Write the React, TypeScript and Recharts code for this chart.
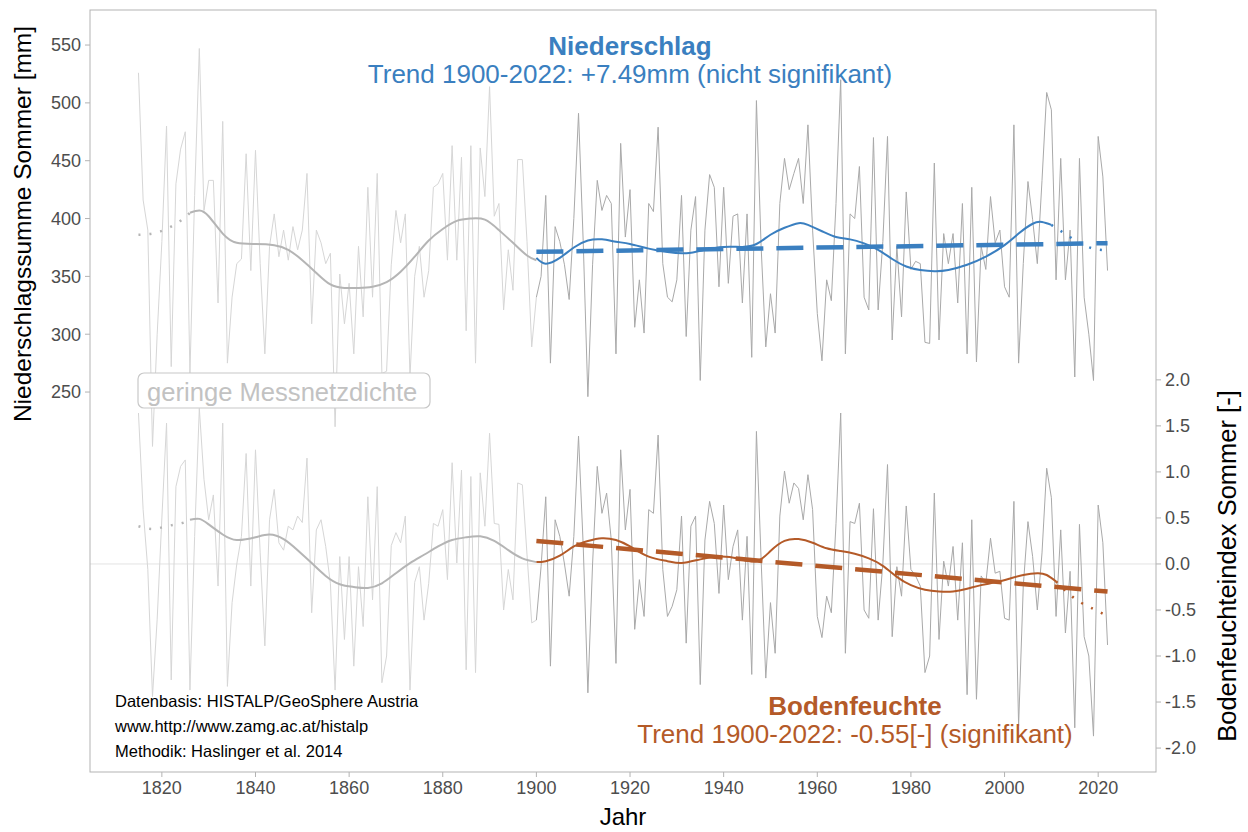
import React from "react";
import {
  ComposedChart,
  Line,
  XAxis,
  YAxis,
  ReferenceLine,
} from "recharts";

// summer precipitation [mm], 1815..2022
const PRECIP = [
  526, 416, 390, 203, 300,
  380, 480, 272, 430, 460, 475, 266, 420, 547, 407,
  433, 433, 327, 484, 275, 332, 361, 365, 456, 355,
  459, 361, 283, 376, 404, 367, 390, 364, 393, 373,
  390, 439, 309, 390, 379, 361, 370, 220, 352, 309,
  344, 283, 376, 315, 427, 332, 439, 266, 268, 360,
  407, 379, 404, 263, 350, 376, 332, 355, 427, 430,
  439, 364, 463, 364, 453, 303, 463, 275, 461, 419,
  514, 402, 413, 321, 373, 338, 451, 451, 380, 289,
  332, 350, 420, 275, 393, 380, 360, 330, 400, 491,
  380, 246, 360, 433, 407, 420, 413, 283, 465, 384,
  425, 306, 347, 301, 413, 406, 479, 361, 332, 328,
  347, 420, 298, 390, 419, 260, 390, 438, 427, 341,
  427, 344, 402, 404, 327, 404, 280, 502, 376, 289,
  335, 301, 413, 452, 425, 439, 452, 413, 481, 390,
  318, 277, 347, 329, 413, 520, 283, 404, 400, 445,
  332, 321, 470, 321, 380, 471, 295, 376, 315, 423,
  356, 363, 361, 293, 292, 448, 295, 387, 361, 387,
  327, 413, 283, 427, 276, 376, 356, 419, 379, 390,
  341, 332, 481, 275, 361, 432, 399, 361, 433, 509,
  494, 347, 452, 347, 390, 263, 452, 332, 300, 260,
  471, 436, 355,
];

// summer soil moisture index [-], 1815..2022
const SOIL = [
  1.64, 0.59, -0.06, -1.44, -0.6,
  0.5, 1.53, -1.26, 0.84, 1.06, 1.13, -1.37, 0.3, 1.69, 0.92,
  0.48, 0.75, -0.24, 1.53, -1.33, -0.42, 0.0, 0.3, 1.2, -0.24,
  1.24, 0.12, -0.89, 0.48, 0.81, 0.23, 0.15, 0.41, 0.37, 0.52,
  0.45, 1.15, -0.53, 0.37, 0.48, 0.19, -0.21, -1.37, 0.08, -0.82,
  0.08, -1.11, -0.03, -0.68, 0.73, -0.39, 0.84, -1.29, -1.0, 0.2,
  0.34, 0.23, 0.52, -1.37, -0.2, -0.03, -0.61, -0.21, 0.44, 0.41,
  0.59, -0.17, 1.1, 0.01, 1.02, -1.15, 0.95, -1.18, 0.99, 0.41,
  1.42, 0.44, 0.43, -0.5, -0.06, -0.39, 0.88, 0.86, 0.1, -0.64,
  -0.61, -0.03, 0.73, -1.11, 0.48, 0.3, 0.0, -0.35, 0.3, 1.39,
  0.2, -1.4, 0.0, 1.06, 0.55, 0.77, 0.26, -1.08, 1.24, 0.37,
  0.81, -0.71, -0.17, -0.57, 0.59, 0.55, 1.4, -0.06, -0.57, -0.46,
  -0.28, 0.52, -0.86, 0.41, 0.52, -1.31, 0.26, 0.68, 0.44, -0.32,
  0.64, -0.17, 0.19, 0.37, -0.61, 0.3, -1.2, 1.44, 0.05, -1.24,
  -0.42, -0.97, 0.52, 1.01, 0.66, 0.88, 0.82, 0.48, 0.97, 0.59,
  -0.57, -0.8, -0.35, -0.53, 0.44, 1.64, -0.97, 0.46, 0.44, 0.66,
  -0.5, -0.59, 0.6, -0.61, 0.0, 1.08, -0.79, -0.03, -0.35, 0.63,
  -0.06, -0.13, -0.24, -1.18, -1.0, 0.77, -0.82, 0.03, -0.24, 0.19,
  -0.61, 0.23, -1.42, 0.48, -1.47, -0.13, -0.21, 0.28, -0.1, -0.08,
  -0.59, -0.61, 0.68, -1.76, -0.24, 0.46, 0.08, -0.5, 0.12, 1.04,
  0.72, -0.57, 0.37, -0.75, -0.08, -1.78, 0.43, -0.79, -1.0, -1.87,
  0.64, 0.23, -0.88,
];

const FIRST_YEAR = 1815;
const YEARS = PRECIP.map((_, i) => FIRST_YEAR + i);

// smoothed curves [year, value]
const P_SMOOTH_HEAD = [[1815, 386], [1818, 387], [1821, 391], [1824, 398], [1826, 405]];
const P_SMOOTH_EARLY = [
  [1826, 405], [1828, 407], [1830, 402], [1833, 387], [1836, 379], [1840, 378],
  [1844, 377], [1847, 373], [1850, 364], [1853, 353], [1856, 343], [1859, 340],
  [1862, 340], [1865, 341], [1868, 345], [1871, 354], [1874, 367], [1877, 381],
  [1880, 391], [1883, 398], [1886, 400], [1889, 399], [1892, 390], [1895, 379],
  [1898, 368], [1900, 364],
];
const P_SMOOTH_LATE = [
  [1900, 366], [1902, 361], [1905, 366], [1908, 375], [1911, 381], [1914, 382],
  [1917, 380], [1920, 378], [1924, 374], [1928, 371], [1932, 370], [1936, 373],
  [1940, 375.5], [1944, 375.5], [1947, 378], [1950, 386], [1953, 392], [1956, 396],
  [1958, 394.5], [1961, 389], [1964, 384], [1967, 382], [1970, 378.5], [1973, 373],
  [1976, 365], [1979, 358.5], [1982, 355.5], [1985, 354.5], [1988, 355.5],
  [1992, 360], [1996, 367], [2000, 377], [2003, 387], [2006, 395.5], [2008, 397],
  [2010, 394.5],
];
const P_SMOOTH_TAIL = [[2010, 394.5], [2013, 386.6], [2016, 379], [2019, 374], [2022, 372.5]];
const P_TREND = [[1900, 371.2], [2022, 378.7]];

const S_SMOOTH_HEAD = [[1815, 0.41], [1818, 0.38], [1821, 0.41], [1824, 0.44], [1826, 0.48]];
const S_SMOOTH_EARLY = [
  [1826, 0.48], [1828, 0.49], [1830, 0.43], [1833, 0.32], [1836, 0.26], [1840, 0.29],
  [1843, 0.32], [1846, 0.27], [1849, 0.15], [1852, 0.01], [1855, -0.13], [1858, -0.22],
  [1861, -0.25], [1864, -0.26], [1867, -0.21], [1870, -0.1], [1873, 0.01], [1876, 0.1],
  [1879, 0.19], [1882, 0.26], [1885, 0.29], [1888, 0.3], [1891, 0.25], [1894, 0.15],
  [1897, 0.06], [1900, 0.02],
];
const S_SMOOTH_LATE = [
  [1900, 0.02], [1902, 0.03], [1905, 0.09], [1908, 0.19], [1911, 0.25], [1914, 0.28],
  [1917, 0.26], [1920, 0.19], [1924, 0.08], [1928, 0.03], [1931, 0.01], [1935, 0.05],
  [1939, 0.08], [1943, 0.06], [1947, 0.03], [1950, 0.14], [1953, 0.25], [1956, 0.27],
  [1959, 0.23], [1962, 0.17], [1965, 0.14], [1968, 0.11], [1971, 0.06], [1974, -0.02],
  [1977, -0.14], [1980, -0.23], [1983, -0.28], [1986, -0.3], [1989, -0.3], [1992, -0.27],
  [1995, -0.23], [1998, -0.2], [2001, -0.16], [2004, -0.12], [2007, -0.1], [2009, -0.12],
  [2011, -0.19],
];
const S_SMOOTH_TAIL = [[2011, -0.19], [2013, -0.29], [2016, -0.41], [2019, -0.49], [2021, -0.54]];
const S_TREND = [[1900, 0.25], [2022, -0.3]];

const X_TICKS = [1820, 1840, 1860, 1880, 1900, 1920, 1940, 1960, 1980, 2000, 2020];
const P_TICKS = [250, 300, 350, 400, 450, 500, 550];
const S_TICKS = [-2, -1.5, -1, -0.5, 0, 0.5, 1, 1.5, 2];

const BLUE = "#3a7fc0";
const BROWN = "#b45a28";
const FONT = "'Liberation Sans', Arial, Helvetica, sans-serif";

const W = 1248;
const H = 832;
const PLOT = { left: 90, right: 1156, top: 10, bottom: 772 };

const rows = (values: number[]) => YEARS.map((year, i) => ({ year, value: values[i] }));
const pairs = (list: number[][]) => list.map(([year, value]) => ({ year, value }));

const precipRows = rows(PRECIP);
const soilRows = rows(SOIL);

const tickStyle = { fill: "#4d4d4d", fontSize: 18 };

export default function App() {
  const common = { dataKey: "value", dot: false, activeDot: false, isAnimationActive: false };

  return (
    <div style={{ position: "absolute", left: 0, top: 0, width: W, height: H, fontFamily: FONT, background: "#fff" }}>
      <ComposedChart width={W} height={H} margin={{ top: PLOT.top, right: 0, bottom: 0, left: 0 }}>
        <XAxis
          dataKey="year"
          type="number"
          domain={[1804.65, 2032.35]}
          ticks={X_TICKS}
          allowDataOverflow
          height={H - PLOT.bottom}
          axisLine={false}
          tickLine={{ stroke: "#b3b3b3" }}
          tickSize={5}
          tickMargin={4}
          tick={tickStyle}
        />
        <YAxis
          yAxisId="left"
          domain={[-78.5, 580.3]}
          ticks={P_TICKS}
          allowDataOverflow
          width={PLOT.left}
          axisLine={false}
          tickLine={{ stroke: "#b3b3b3" }}
          tickSize={5}
          tickMargin={4}
          tick={tickStyle}
        />
        <YAxis
          yAxisId="right"
          orientation="right"
          domain={[-2.26, 6.018]}
          ticks={S_TICKS}
          allowDataOverflow
          width={W - PLOT.right}
          axisLine={false}
          tickLine={{ stroke: "#b3b3b3" }}
          tickSize={5}
          tickMargin={4}
          tick={tickStyle}
          tickFormatter={(v: number) => v.toFixed(1)}
        />
        <ReferenceLine yAxisId="right" y={0} stroke="#e3e3e3" strokeWidth={1} />

        {/* raw series */}
        <Line {...common} yAxisId="left" data={precipRows.filter((r) => r.year <= 1900)} stroke="#d6d6d6" strokeWidth={1} />
        <Line {...common} yAxisId="left" data={precipRows.filter((r) => r.year >= 1900)} stroke="#a9a9a9" strokeWidth={1} />
        <Line {...common} yAxisId="right" data={soilRows.filter((r) => r.year <= 1900)} stroke="#d6d6d6" strokeWidth={1} />
        <Line {...common} yAxisId="right" data={soilRows.filter((r) => r.year >= 1900)} stroke="#a9a9a9" strokeWidth={1} />

        {/* smoothed */}
        <Line {...common} yAxisId="left" type="natural" data={pairs(P_SMOOTH_HEAD)} stroke="#b5b5b5" strokeWidth={2.5} strokeDasharray="2 9" />
        <Line {...common} yAxisId="left" type="natural" data={pairs(P_SMOOTH_EARLY)} stroke="#b5b5b5" strokeWidth={2} />
        <Line {...common} yAxisId="left" type="natural" data={pairs(P_SMOOTH_LATE)} stroke={BLUE} strokeWidth={2} />
        <Line {...common} yAxisId="left" type="natural" data={pairs(P_SMOOTH_TAIL)} stroke={BLUE} strokeWidth={2.5} strokeDasharray="2 9" />
        <Line {...common} yAxisId="right" type="natural" data={pairs(S_SMOOTH_HEAD)} stroke="#b5b5b5" strokeWidth={2.5} strokeDasharray="2 9" />
        <Line {...common} yAxisId="right" type="natural" data={pairs(S_SMOOTH_EARLY)} stroke="#b5b5b5" strokeWidth={2} />
        <Line {...common} yAxisId="right" type="natural" data={pairs(S_SMOOTH_LATE)} stroke={BROWN} strokeWidth={2} />
        <Line {...common} yAxisId="right" type="natural" data={pairs(S_SMOOTH_TAIL)} stroke={BROWN} strokeWidth={2.5} strokeDasharray="2 9" />

        {/* trends */}
        <Line {...common} yAxisId="left" data={pairs(P_TREND)} stroke={BLUE} strokeWidth={4.5} strokeDasharray="27 13" />
        <Line {...common} yAxisId="right" data={pairs(S_TREND)} stroke={BROWN} strokeWidth={4.5} strokeDasharray="27 13" />
      </ComposedChart>

      <svg width={W} height={H} style={{ position: "absolute", left: 0, top: 0, pointerEvents: "none" }} fontFamily={FONT}>
        <rect
          x={PLOT.left}
          y={PLOT.top}
          width={PLOT.right - PLOT.left}
          height={PLOT.bottom - PLOT.top}
          fill="none"
          stroke="#b3b3b3"
          strokeWidth={1}
        />

        <text x={630} y={55} textAnchor="middle" fontSize={26} fontWeight="bold" fill={BLUE}>Niederschlag</text>
        <text x={630} y={83} textAnchor="middle" fontSize={26} fill={BLUE}>Trend 1900-2022: +7.49mm (nicht signifikant)</text>

        <text x={855} y={715} textAnchor="middle" fontSize={26} fontWeight="bold" fill={BROWN}>Bodenfeuchte</text>
        <text x={855} y={743} textAnchor="middle" fontSize={26} fill={BROWN}>Trend 1900-2022: -0.55[-] (signifikant)</text>

        <text x={115} y={707} fontSize={16.5} fill="#000">Datenbasis: HISTALP/GeoSphere Austria</text>
        <text x={115} y={732} fontSize={16.5} fill="#000">www.http://www.zamg.ac.at/histalp</text>
        <text x={115} y={757} fontSize={16.5} fill="#000">Methodik: Haslinger et al. 2014</text>

        <rect x={138} y={373} width={292} height={35} rx={6} fill="#fff" stroke="#c8c8c8" strokeWidth={1.2} />
        <text x={147} y={401} fontSize={25.6} fill="#c2c2c2">geringe Messnetzdichte</text>

        <text
          x={22}
          y={224}
          transform="rotate(-90 22 224)"
          textAnchor="middle"
          dominantBaseline="central"
          fontSize={24.5}
          fill="#000"
        >
          Niederschlagssumme Sommer [mm]
        </text>
        <text
          x={1227}
          y={566}
          transform="rotate(-90 1227 566)"
          textAnchor="middle"
          dominantBaseline="central"
          fontSize={25.5}
          fill="#000"
        >
          Bodenfeuchteindex Sommer [-]
        </text>
        <text x={623} y={825} textAnchor="middle" fontSize={24} fill="#000">Jahr</text>
      </svg>
    </div>
  );
}
